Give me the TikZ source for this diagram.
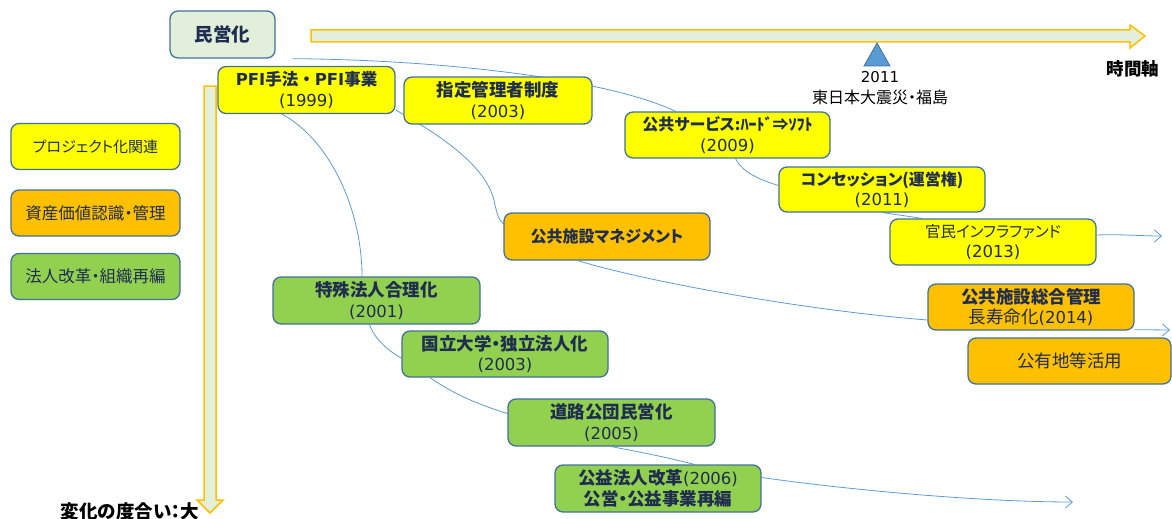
\documentclass[tikz,border=0pt]{standalone}
\usepackage{fontspec}
\setmainfont{Noto Sans CJK JP}[RawFeature=+palt]
\newfontfamily\cjkfull{Noto Sans CJK JP}
\newfontfamily\lat{DejaVu Sans}
\usetikzlibrary{arrows.meta,calc,backgrounds}
\definecolor{txt}{HTML}{1F2D50}
\definecolor{bord}{HTML}{41719C}
\definecolor{connc}{HTML}{5B9BD5}
\definecolor{lgreen}{HTML}{E2EFDA}
\definecolor{gold}{HTML}{FFC000}
\definecolor{yel}{HTML}{FFFF00}
\definecolor{grn}{HTML}{92D050}
\definecolor{org}{HTML}{FFC000}
\newcommand{\fs}[1]{\fontsize{#1}{20.5}\selectfont}
\tikzset{
  box/.style={draw=bord, line width=1.3pt, rounded corners=8pt, minimum width=206pt,
    minimum height=46pt, align=center, text=txt, font=\fs{17.5}, inner sep=0pt},
  ybox/.style={box, fill=yel},
  obox/.style={box, fill=org},
  gbox/.style={box, fill=grn},
  legendbox/.style={box, minimum width=169pt, font=\fs{16.5}},
  conn/.style={draw=connc, line width=0.8pt},
  tipconn/.style={conn, -{Straight Barb[length=7pt,width=12pt]}},
  bigarrow/.style={fill=lgreen, draw=gold, line width=1.5pt},
  plain/.style={text=black, inner sep=0pt},
}
\begin{document}
\begin{tikzpicture}[x=1pt,y={(0pt,-1pt)}]
\useasboundingbox (0,0) rectangle (1172,519);
% axes
\draw[bigarrow] (311,30) -- (1130,30) -- (1130,25) -- (1145,36) -- (1130,48) -- (1130,42) -- (311,42) -- cycle;
\draw[bigarrow] (204,86) -- (216,86) -- (216,500) -- (223,500) -- (210,513) -- (197,500) -- (204,500) -- cycle;
\draw[fill=connc, draw=bord, line width=0.8pt] (877,43) -- (890,66) -- (864,66) -- cycle;
\node[plain, font=\lat\fontsize{15}{17}\selectfont] (y2011) at (880,77) {2011};
\node[plain, font=\fontsize{16}{18}\selectfont] (quake) at (880,97) {東日本大震災・福島};
\node[plain, font=\bfseries\fontsize{17.5}{19}\selectfont] (axis) at (1133,69) {時間軸};
\node[plain, font=\bfseries\fontsize{18.5}{20}\selectfont] (deg) at (130,512) {変化の度合い：大};
% legend
\node[legendbox, fill=yel, font=\fs{15}] (lg1) at (95.5,146.5) {プロジェクト化関連};
\node[legendbox, fill=org] (lg2) at (95.5,213) {資産価値認識・管理};
\node[legendbox, fill=grn] (lg3) at (95.5,276.5) {法人改革・組織再編};
% boxes
\node[box, fill=lgreen, minimum width=105pt, minimum height=47pt, font=\bfseries\fs{18.5}] (min) at (222.5,34.5) {民営化};
\node[ybox, minimum width=177pt, minimum height=47pt, font=\fs{16.5}] (pfi) at (306.5,90) {\textbf{{\lat PFI}\cjkfull 手法・}\textbf{{\lat PFI}事業}\\{\lat\fs{16.5}(1999)}};
\node[ybox, minimum width=188pt, minimum height=47pt] (shitei) at (498,100.5) {\textbf{指定管理者制度}\\{\lat\fs{16.5}(2003)}};
\node[ybox, minimum width=205pt, font=\fs{16}] (svc) at (727.5,135) {\textbf{公共サービス:ﾊｰﾄﾞ⇒ｿﾌﾄ}\\{\lat\fs{16.5}(2009)}};
\node[ybox, minimum height=45pt, font=\fs{16}] (con) at (882,189.5) {\textbf{コンセッション(運営権)}\\{\lat\fs{16.5}(2011)}};
\node[ybox, font=\fs{15.5}] (kan) at (993,242) {官民インフラファンド\\{\lat\fs{16.5}(2013)}};
\node[obox, minimum height=47pt, font=\bfseries\fs{16}] (mgmt) at (607,236.5) {公共施設マネジメント};
\node[obox] (sogo) at (1031,307) {\textbf{公共施設総合管理}\\長寿命化{\lat\fs{16.5}(2014)}};
\node[obox, minimum width=203pt] (koyu) at (1069.5,361) {公有地等活用};
\node[gbox, minimum width=207pt, minimum height=47pt] (tok) at (376.5,300.5) {\textbf{特殊法人合理化}\\{\lat\fs{16.5}(2001)}};
\node[gbox] (koku) at (505,354) {\textbf{国立大学・独立法人化}\\{\lat\fs{16.5}(2003)}};
\node[gbox, minimum width=207pt, minimum height=47pt] (doro) at (611.5,422.5) {\textbf{道路公団民営化}\\{\lat\fs{16.5}(2005)}};
\node[gbox, minimum height=47pt] (koeki) at (658,488.5) {\textbf{公益法人改革}{\lat\fs{16.5}(2006)}\\\textbf{公営・公益事業再編}};
\coordinate (endA) at (1162,236);
\coordinate (endB) at (1170,330);
\coordinate (endC) at (1073,502);
% connectors
\begin{scope}[on background layer]
\draw[conn] ($(min.south east)+(17,0)$) .. controls (450,60) and (610,80) .. ($(svc.north)+(-52,0)$);
\draw[conn] ($(pfi.south)+(-24.5,0)$) .. controls (330,140) and (362,210) .. ($(tok.north)+(-14.5,0)$);
\draw[conn] ($(pfi.east)+(0,20)$) .. controls (440,135) and (485,165) .. (494,200) .. controls (497,215) and (499,221) .. ($(mgmt.west)+(1,-12)$);
\draw[conn] ($(svc.south)+(8,0)$) .. controls (742,172) and (760,180) .. ($(con.west)+(0,-4)$);
\draw[conn] ($(con.south)+(1,0)$) -- ($(kan.north)+(-71,0)$);
\draw[tipconn] ($(kan.east)+(0,-7)$) .. controls (1120,234) and (1140,236) .. (endA);
\draw[conn] ($(mgmt.south)+(-29,0)$) .. controls (640,280) and (800,310) .. ($(sogo.west)+(0,13)$);
\draw[tipconn] ($(sogo.south east)+(0,-1)$) -- (endB);
\draw[conn] ($(tok.south)+(-7,0)$) .. controls (375,340) and (390,352) .. ($(koku.west)+(0,4)$);
\draw[conn] ($(koku.south)+(-75,0)$) .. controls (455,395) and (480,405) .. ($(doro.west)+(0,-9)$);
\draw[conn] (doro.south) .. controls (640,452) and (670,458) .. ($(koeki.north)+(36,0)$);
\draw[tipconn] ($(koeki.east)+(0,-11)$) .. controls (850,490) and (980,502) .. (endC);
\end{scope}
\end{tikzpicture}
\end{document}
